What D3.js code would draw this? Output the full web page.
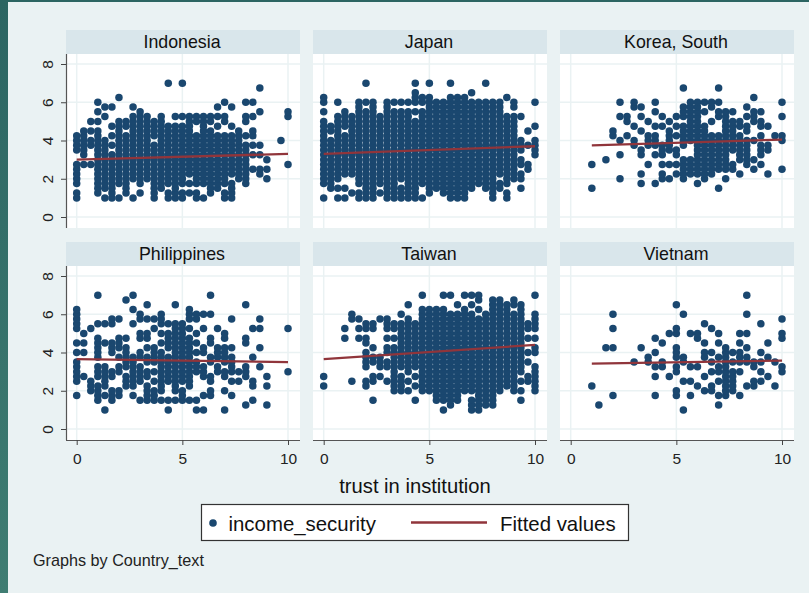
<!DOCTYPE html>
<html>
<head>
<meta charset="utf-8">
<script src="https://cdn.jsdelivr.net/npm/d3@7"></script>
<style>
  html, body { margin: 0; padding: 0; background: #eaf2f3; }
  svg { display: block; font-family: "Liberation Sans", Arial, sans-serif; }
</style>
</head>
<body>
<div id="chart"></div>
<script>
// income_security is on quarter steps from 1 to 7, one letter per step
var incomeLevels = [1, 1.25, 1.5, 1.75, 2, 2.25, 2.5, 2.75, 3, 3.25, 3.5, 3.75, 4, 4.25,
  4.5, 4.75, 5, 5.25, 5.5, 5.75, 6, 6.25, 6.5, 6.75, 7];
var levelCodes = 'abcdefghijklmnopqrstuvwxy';

// trust in institution is on thirds from 0 to 10, one string per column
var trustLevels = [0, 1/3, 2/3, 1, 4/3, 5/3, 2, 7/3, 8/3, 3, 10/3, 11/3, 4, 13/3, 14/3, 5,
  16/3, 17/3, 6, 19/3, 20/3, 7, 22/3, 23/3, 8, 25/3, 26/3, 9, 28/3, 29/3, 10];

var indonesia = ['abdefghklmn', 'hjklmno', 'hlmoq', 'bcdefghijklmnoqsu', 'acdefghijklmrt',
  'abcdefghijlnpt', 'adefghijklmnopqv', 'bcdefghijklmnpq', 'aefghijklmnopqrt', 'bdefghijklmnopqrs',
  'efghijklmnopqr', 'abcdefghijklnopq', 'cdefghijklmnopqr', 'abdefghijklmnopy', 'abcdefghijklmnopr',
  'abdefghijklmnopry', 'bdfghijklmnopqr', 'abdefghijklmnqr', 'adefghijklmnopqr', 'bcdefghijklmnoqr',
  'cdefghijklmnprt', 'abdefghijklmnqru', 'abcdfghijklmnpt', 'efghijklmno', 'defghijklnqru',
  'gjlnoru', 'fgjlsx', 'egi', '', 'm', 'hrs'];

var japan = ['adefghijklmnopqsuv', 'cdefghijklmop', 'acefghijklmnopqru', 'acfghijklmnpqrs', 'bfghijklmnopqr',
  'abdefghijklmnopqrstu', 'abcdefghijklmnopqrsuy', 'abcdefghijklmnopqrstu', 'bdefghijklmnopqr', 'abcdefghijklmnopqrstu',
  'abcdefghijklmnopqrsu', 'abcefghijklmnopqrsu', 'abcdefghijklmnopqrsu', 'abcdefghijklmnopqsuvwy', 'adefghijklmnopqrsuv',
  'bcdefghijklmnopqrstuvy', 'cdefghijklmnopqrstu', 'bcdefghijklmnopqrstu', 'abcdefghijklmnopqrstuvy', 'abcdefghijklmnopqrstuv',
  'abcdefghijklmnopqrstuv', 'cdefghijklmnopqrstuw', 'defghijklmnopqrstu', 'cdefghijklmnopqrstuy', 'abcdefghijklmnopqrstu',
  'cdfghijklmnopqrstu', 'abdefghijklmnopqrv', 'efghijklmnopqrtu', 'cefhiklmr', 'ghlo', 'jklmpu'];

var korea = ['', '', '', 'ch', '', 'i', 'no', 'ejmru', 'nqr', 'lmptu', 'dfjkort', 'hlmnq', 'djlmnpsu',
  'efhjklpr', 'ehklmnoq', 'fhjknpr', 'efghilmnoprstx', 'fghimnopqrstu', 'dfghijklmnopqrstu',
  'efghijklmnopsu', 'fghijklmnqtu', 'cghijklmnrsux', 'eghijklmnopqrs', 'ghklmnopqs', 'fijklmnpq',
  'hijklmoprt', 'gimqrsv', 'hjklnpqs', 'fklp', 'n', 'gmnru'];

var philippines = ['dghijkmorstuv', 'hmoq', 'efgr', 'cdefhijlmnopsy', 'adfghijos',
  'cdehimnost', 'deijlnopt', 'fghjklmnpx', 'dfghijklsvy', 'cghijlmpqtu',
  'cdefhiklnpqtw', 'cdegiklmnrt', 'cefghijklmoqstu', 'acghijklnopqs', 'cefghijklmnopqrsw',
  'cdeghijklmnopqrs', 'cfghijklmnoprtuv', 'acijkmoqtu', 'adhijmnru', 'deghklopuy',
  'ijlmnr', 'aehiklmnpq', 'dgijklnt', 'gi', 'bhijopw',
  'cfglr', 'jnrt', 'bfh', '', '', 'ir'];

var taiwan = ['fh', '', '', 'pr', 'gtu', 'prt', 'fgjklmoprs', 'cghklnrs', 'hjklt', 'gjkmnprst',
  'efghijklmnprs', 'efghjklmnopqrsu', 'egijklmnopqrstw', 'cfhjklmnopqrs', 'efghijklmnopqrstuvy',
  'efghijklmnopqrstuv', 'cdefghijklmnopqrstuv', 'acdefghijklmnopqrstuvy', 'bcdefghijklmnopqrstuy', 'cdefghijklmnopqrstuw',
  'efghijklmnopqrstuvy', 'abcefghijklmnopqrstuwy', 'abcdefghijklmnopqrstvxy', 'bcdefghijklmnopqrstu', 'bcdefghijklmnopqrstuvwx',
  'efghijklmnopqrstuvwx', 'fghijklmnopqrstuvw', 'efghijklmnopqrstuwx', 'cegijklmnopqrstuvw', 'ghkmprs', 'efghijmnprstuy'];

var vietnam = ['', '', '', 'f', 'b', 'n', 'dnru', '', '', 'k', 'n', 'kl', 'dhjmp', 'jko', 'hq',
  'deijlmnqrw', 'agklu', 'dgjq', 'fjpq', 'ehlmos', 'efikmr', 'bdgijloq', 'defghijklmn', 'efghikm', 'diklmoq',
  'fklnquy', 'fgjk', 'gikms', 'hlo', 'fk', 'ijpqt'];

// fitted line ends, [trust, income]
var indonesiaFit = [[0, 3.0], [10, 3.3]];
var japanFit = [[0, 3.3], [10, 3.7]];
var koreaFit = [[1, 3.75], [10, 4.05]];
var philippinesFit = [[0, 3.65], [10, 3.5]];
var taiwanFit = [[0, 3.65], [10, 4.4]];
var vietnamFit = [[1, 3.42], [10, 3.58]];

var countries = ['Indonesia', 'Japan', 'Korea, South', 'Philippines', 'Taiwan', 'Vietnam'];
var columns = [indonesia, japan, korea, philippines, taiwan, vietnam];
var fits = [indonesiaFit, japanFit, koreaFit, philippinesFit, taiwanFit, vietnamFit];

var xTicks = [0, 5, 10];
var yTicks = [0, 2, 4, 6, 8];

var width = 809, height = 593;
var navy = '#1a476f', maroon = '#90353b', gridColor = '#eaf2f3', stripColor = '#d9e6eb';

var panelX = [66, 313, 560];      // left edge of each panel column
var panelY = [54, 266];           // top of the plot region under the strip
var panelW = 234, plotH = 174, stripH = 24;
var xInset = 10.7;                // space between the panel edge and x = 0
var yTop = 10, yBottom = 163;     // y = 8 and y = 0 inside the plot region

var svg = d3.select('#chart').append('svg')
    .attr('width', width)
    .attr('height', height);

var defs = svg.append('defs');
var sideFade = defs.append('linearGradient')
    .attr('id', 'side-fade')
    .attr('x1', 0).attr('x2', 0).attr('y1', 0).attr('y2', 1);
sideFade.append('stop').attr('offset', 0).attr('stop-color', '#2c6562');
sideFade.append('stop').attr('offset', 1).attr('stop-color', '#3f7d72');

svg.append('rect').attr('width', width).attr('height', height).attr('fill', '#eaf2f3');
svg.append('rect').attr('width', 8).attr('height', height).attr('fill', 'url(#side-fade)');
svg.append('rect').attr('width', width).attr('height', 2).attr('fill', '#2c6562');

var x = d3.scaleLinear().domain([0, 10]).range([xInset, panelW - xInset - 1.3]);
var y = d3.scaleLinear().domain([0, 8]).range([yBottom, yTop]);

var fitLine = d3.line()
    .x(function(d) { return x(d[0]); })
    .y(function(d) { return y(d[1]); });

function toPoints(cols) {
  var points = [];
  cols.forEach(function(col, i) {
    col.split('').forEach(function(code) {
      points.push([trustLevels[i], incomeLevels[levelCodes.indexOf(code)]]);
    });
  });
  return points;
}

countries.forEach(function(name, i) {
  var col = i % 3, row = Math.floor(i / 3);
  var g = svg.append('g')
      .attr('class', 'panel')
      .attr('transform', 'translate(' + panelX[col] + ',' + panelY[row] + ')');

  // strip title
  g.append('rect')
      .attr('y', -stripH)
      .attr('width', panelW)
      .attr('height', stripH)
      .attr('fill', stripColor);
  g.append('text')
      .attr('x', panelW / 2 - 1)
      .attr('y', -6.5)
      .attr('text-anchor', 'middle')
      .attr('font-size', 17.8)
      .attr('fill', '#111')
      .text(name);

  g.append('rect')
      .attr('width', panelW)
      .attr('height', plotH)
      .attr('fill', '#fff');

  // gridlines
  g.selectAll('.gy').data(yTicks).enter().append('line')
      .attr('class', 'gy')
      .attr('x1', 0).attr('x2', panelW)
      .attr('y1', y).attr('y2', y)
      .attr('stroke', gridColor).attr('stroke-width', 1.5);
  g.selectAll('.gx').data(xTicks).enter().append('line')
      .attr('class', 'gx')
      .attr('y1', 0).attr('y2', plotH)
      .attr('x1', x).attr('x2', x)
      .attr('stroke', gridColor).attr('stroke-width', 1.5);

  // points
  g.selectAll('.pt').data(toPoints(columns[i])).enter().append('circle')
      .attr('class', 'pt')
      .attr('cx', function(d) { return x(d[0]); })
      .attr('cy', function(d) { return y(d[1]); })
      .attr('r', 3.75)
      .attr('fill', navy);

  g.append('path')
      .attr('d', fitLine(fits[i]))
      .attr('fill', 'none')
      .attr('stroke', maroon)
      .attr('stroke-width', 2.3);

  // axes only on the outer edges
  if (col === 0) {
    var yAxis = g.append('g')
        .call(d3.axisLeft(y).tickValues(yTicks).tickSize(5).tickPadding(6).tickFormat(d3.format('d')));
    yAxis.select('.domain').attr('d', 'M0.5,0V' + plotH).attr('stroke', '#555').attr('stroke-width', 1.2);
    yAxis.selectAll('.tick line').attr('stroke', '#444');
    yAxis.selectAll('.tick text')
        .attr('font-size', 15.5)
        .attr('fill', '#222')
        .attr('font-family', '"Liberation Sans", Arial, sans-serif')
        .attr('text-anchor', 'middle')
        .attr('dy', 0)
        .attr('x', -13)
        .attr('transform', 'rotate(-90 -13 0)')
        .attr('y', 0);
  }
  if (row === 1) {
    var xAxis = g.append('g')
        .attr('transform', 'translate(0,' + plotH + ')')
        .call(d3.axisBottom(x).tickValues(xTicks).tickSize(5).tickPadding(8));
    xAxis.select('.domain').attr('d', 'M0,0.5H' + panelW).attr('stroke', '#555').attr('stroke-width', 1.2);
    xAxis.selectAll('.tick line').attr('stroke', '#444');
    xAxis.selectAll('.tick text')
        .attr('font-size', 15.5)
        .attr('fill', '#222')
        .attr('font-family', '"Liberation Sans", Arial, sans-serif');
  }
});

svg.append('text')
    .attr('x', 415)
    .attr('y', 493)
    .attr('text-anchor', 'middle')
    .attr('font-size', 20.2)
    .attr('fill', '#111')
    .text('trust in institution');

// legend
var legend = svg.append('g').attr('class', 'legend');
legend.append('rect')
    .attr('x', 201.5).attr('y', 504.5)
    .attr('width', 427).attr('height', 36)
    .attr('fill', '#fff')
    .attr('stroke', '#333')
    .attr('stroke-width', 1.2);
legend.append('circle')
    .attr('cx', 213).attr('cy', 523).attr('r', 3.8)
    .attr('fill', navy);
legend.append('text')
    .attr('x', 228.5).attr('y', 530.5)
    .attr('font-size', 20.4)
    .attr('fill', '#111')
    .text('income_security');
legend.append('line')
    .attr('x1', 411).attr('x2', 487)
    .attr('y1', 522.5).attr('y2', 522.5)
    .attr('stroke', maroon)
    .attr('stroke-width', 2.3);
legend.append('text')
    .attr('x', 500).attr('y', 530.5)
    .attr('font-size', 20.4)
    .attr('fill', '#111')
    .text('Fitted values');

svg.append('text')
    .attr('x', 33)
    .attr('y', 566)
    .attr('font-size', 16.2)
    .attr('fill', '#222')
    .text('Graphs by Country_text');
</script>
</body>
</html>
